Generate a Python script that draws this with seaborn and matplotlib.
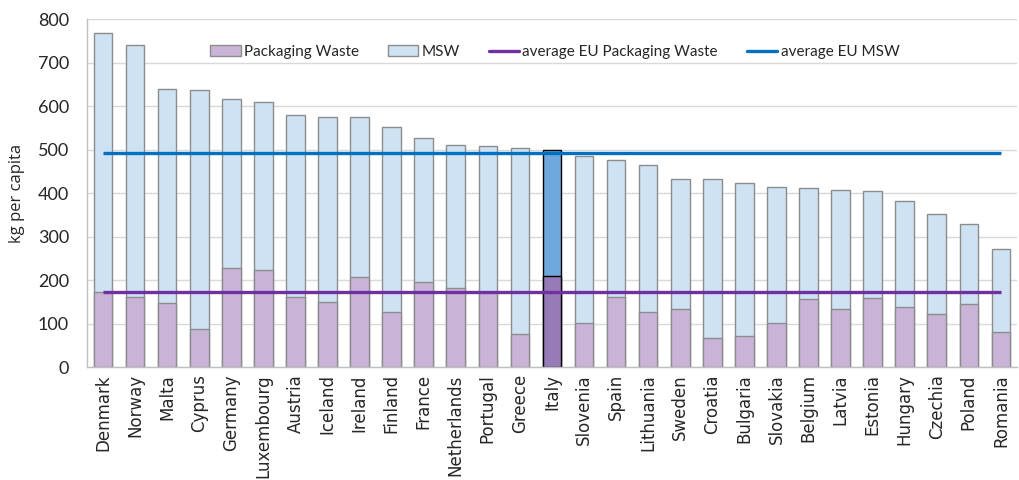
import matplotlib
matplotlib.use("Agg")
import matplotlib.pyplot as plt
import seaborn as sns
from matplotlib.patches import Patch
from matplotlib.lines import Line2D

countries = ["Denmark", "Norway", "Malta", "Cyprus", "Germany", "Luxembourg", "Austria",
             "Iceland", "Ireland", "Finland", "France", "Netherlands", "Portugal", "Greece",
             "Italy", "Slovenia", "Spain", "Lithuania", "Sweden", "Croatia", "Bulgaria",
             "Slovakia", "Belgium", "Latvia", "Estonia", "Hungary", "Czechia", "Poland", "Romania"]
msw = [768, 740, 640, 638, 616, 611, 579, 576, 576, 552, 526, 510, 509, 504,
       499, 486, 476, 465, 434, 433, 424, 414, 412, 408, 406, 382, 352, 330, 273]
packaging = [174, 161, 147, 87, 228, 224, 161, 149, 208, 128, 197, 182, 172, 77,
             211, 102, 162, 127, 133, 68, 71, 102, 158, 133, 159, 139, 122, 145, 81]
avg_packaging = 174
avg_msw = 492
highlight = "Italy"

sns.set_style("white")
plt.rcParams['font.family'] = ['Lato', 'DejaVu Sans']

fig = plt.figure(figsize=(10.2, 4.8), dpi=100)
ax = fig.add_axes([0.0853, 0.2348, 0.9117, 0.725])

msw_colors = ["#6FA8DC" if c == highlight else "#CFE2F3" for c in countries]
pack_colors = ["#977BB6" if c == highlight else "#C9B4D8" for c in countries]

sns.barplot(x=countries, y=msw, hue=countries, palette=msw_colors, legend=False,
            width=0.58, edgecolor="#8C8C8C", linewidth=1.0, saturation=1, ax=ax)
sns.barplot(x=countries, y=packaging, hue=countries, palette=pack_colors, legend=False,
            width=0.58, edgecolor="#8C8C8C", linewidth=1.0, saturation=1, ax=ax)

# highlight bar gets a black outline
i = countries.index(highlight)
n = len(countries)
ax.patches[i].set_edgecolor("black")
ax.patches[n + i].set_edgecolor("black")

ax.hlines(avg_msw, 0, n - 1, color="#0070C0", linewidth=2.4, zorder=5)
ax.hlines(avg_packaging, 0, n - 1, color="#7030A0", linewidth=2.4, zorder=5)

ax.set_xlim(-0.5, n - 0.5)
ax.set_ylim(0, 800)
ax.set_yticks(range(0, 801, 100))
ax.yaxis.grid(True, color="#D9D9D9", linewidth=1.0)
ax.set_axisbelow(True)
for s in ["top", "right"]:
    ax.spines[s].set_visible(False)
for s in ["left", "bottom"]:
    ax.spines[s].set_color("#BFBFBF")
    ax.spines[s].set_linewidth(1.0)

ax.tick_params(axis="y", length=0, pad=13, labelsize=13, labelcolor="#262626")
ax.tick_params(axis="x", length=0, pad=5)
ax.set_xticks(range(n))
ax.set_xticklabels(countries, rotation=90, fontsize=12, family="DejaVu Sans", color="#262626")

ax.set_ylabel("kg per capita", fontsize=12, family="Open Sans", color="#262626")
ax.yaxis.set_label_coords(-0.0667, 0.5)
ax.set_xlabel("")

handles = [
    Patch(facecolor="#C9B4D8", edgecolor="#8C8C8C", label="Packaging Waste"),
    Patch(facecolor="#CFE2F3", edgecolor="#8C8C8C", label="MSW"),
    Line2D([], [], color="#7030A0", linewidth=2.4, label="average EU Packaging Waste"),
    Line2D([], [], color="#0070C0", linewidth=2.4, label="average EU MSW"),
]
ax.legend(handles=handles, loc="center", bbox_to_anchor=(0.503, 0.906), ncol=4,
          frameon=False, fontsize=11, handlelength=2.0, handleheight=0.75,
          handletextpad=0.2, columnspacing=1.9, labelcolor="#262626")

fig.savefig("out.png", dpi=100)
